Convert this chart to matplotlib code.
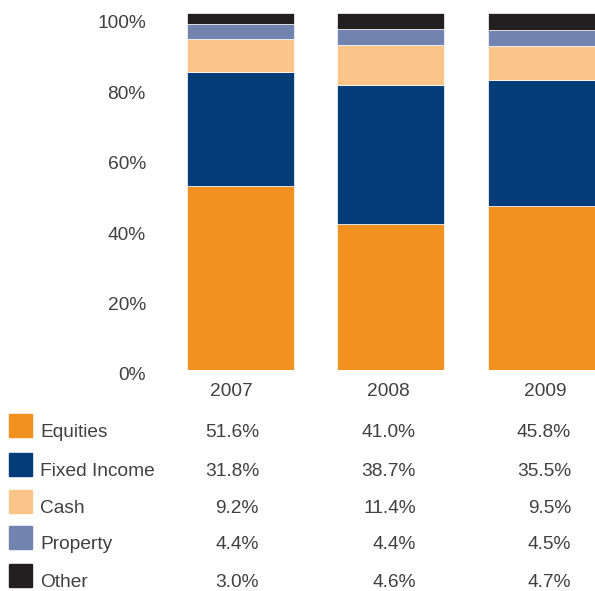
import matplotlib.pyplot as plt
import matplotlib.transforms as mtransforms
from matplotlib.patches import Rectangle

plt.rcParams['font.family'] = ['Liberation Sans', 'DejaVu Sans']

years = ['2007', '2008', '2009']
categories = ['Equities', 'Fixed Income', 'Cash', 'Property', 'Other']
shares = {
    'Equities': [51.6, 41.0, 45.8],
    'Fixed Income': [31.8, 38.7, 35.5],
    'Cash': [9.2, 11.4, 9.5],
    'Property': [4.4, 4.4, 4.5],
    'Other': [3.0, 4.6, 4.7],
}
colors = ['#f39120', '#023d7a', '#fbc58a', '#7283b0', '#231f20']
yticks = [0, 20, 40, 60, 80, 100]

TEXT = '#404040'
FS = 13.8
W, H = 595, 591


def fx(px):
    return px / W


def fy(py):
    return 1 - py / H


fig = plt.figure(figsize=(W / 100, H / 100), dpi=100)
ax = fig.add_axes([fx(150), fy(370), 1 - fx(150), fy(13) - fy(370)])

# stacked bars
bottom = [0.0] * len(years)
for cat, col in zip(categories, colors):
    vals = shares[cat]
    ax.bar(range(len(years)), vals, width=0.71, bottom=bottom, color=col,
           edgecolor='white', linewidth=0.5)
    bottom = [b + v for b, v in zip(bottom, vals)]

ax.set_xlim(-0.6, 2.355)
ax.set_ylim(0, 100)
ax.set_xticks([])
ax.set_yticks(yticks)
ax.set_yticklabels([f'{t}%' for t in yticks], fontsize=FS, color=TEXT)
ax.tick_params(axis='y', length=0, pad=3)
# labels sit a little below their gridline, less so toward the bottom
for t, lbl in zip(yticks, ax.get_yticklabels()):
    shift = (4 + 5 * t / 100) / 100
    lbl.set_transform(lbl.get_transform()
                      + mtransforms.ScaledTranslation(0, -shift, fig.dpi_scale_trans))
for side in ax.spines.values():
    side.set_visible(False)

# table under the chart
year_centers = [231, 388, 545]
value_right = [259, 416, 571]
for yr, xc in zip(years, year_centers):
    fig.text(fx(xc), fy(391), yr, ha='center', va='center', fontsize=FS, color=TEXT)

square_tops = [414, 453, 490, 526, 564]
for i, (cat, col) in enumerate(zip(categories, colors)):
    top = square_tops[i]
    base = top + 23
    fig.patches.append(Rectangle((fx(9), fy(base)), fx(23), fy(top) - fy(base),
                                 transform=fig.transFigure, color=col))
    fig.text(fx(40), fy(base), cat, ha='left', va='baseline', fontsize=FS, color=TEXT)
    for j, xr in enumerate(value_right):
        fig.text(fx(xr), fy(base), f'{shares[cat][j]:.1f}%', ha='right',
                 va='baseline', fontsize=FS, color=TEXT)

fig.savefig('out.png', dpi=100)
